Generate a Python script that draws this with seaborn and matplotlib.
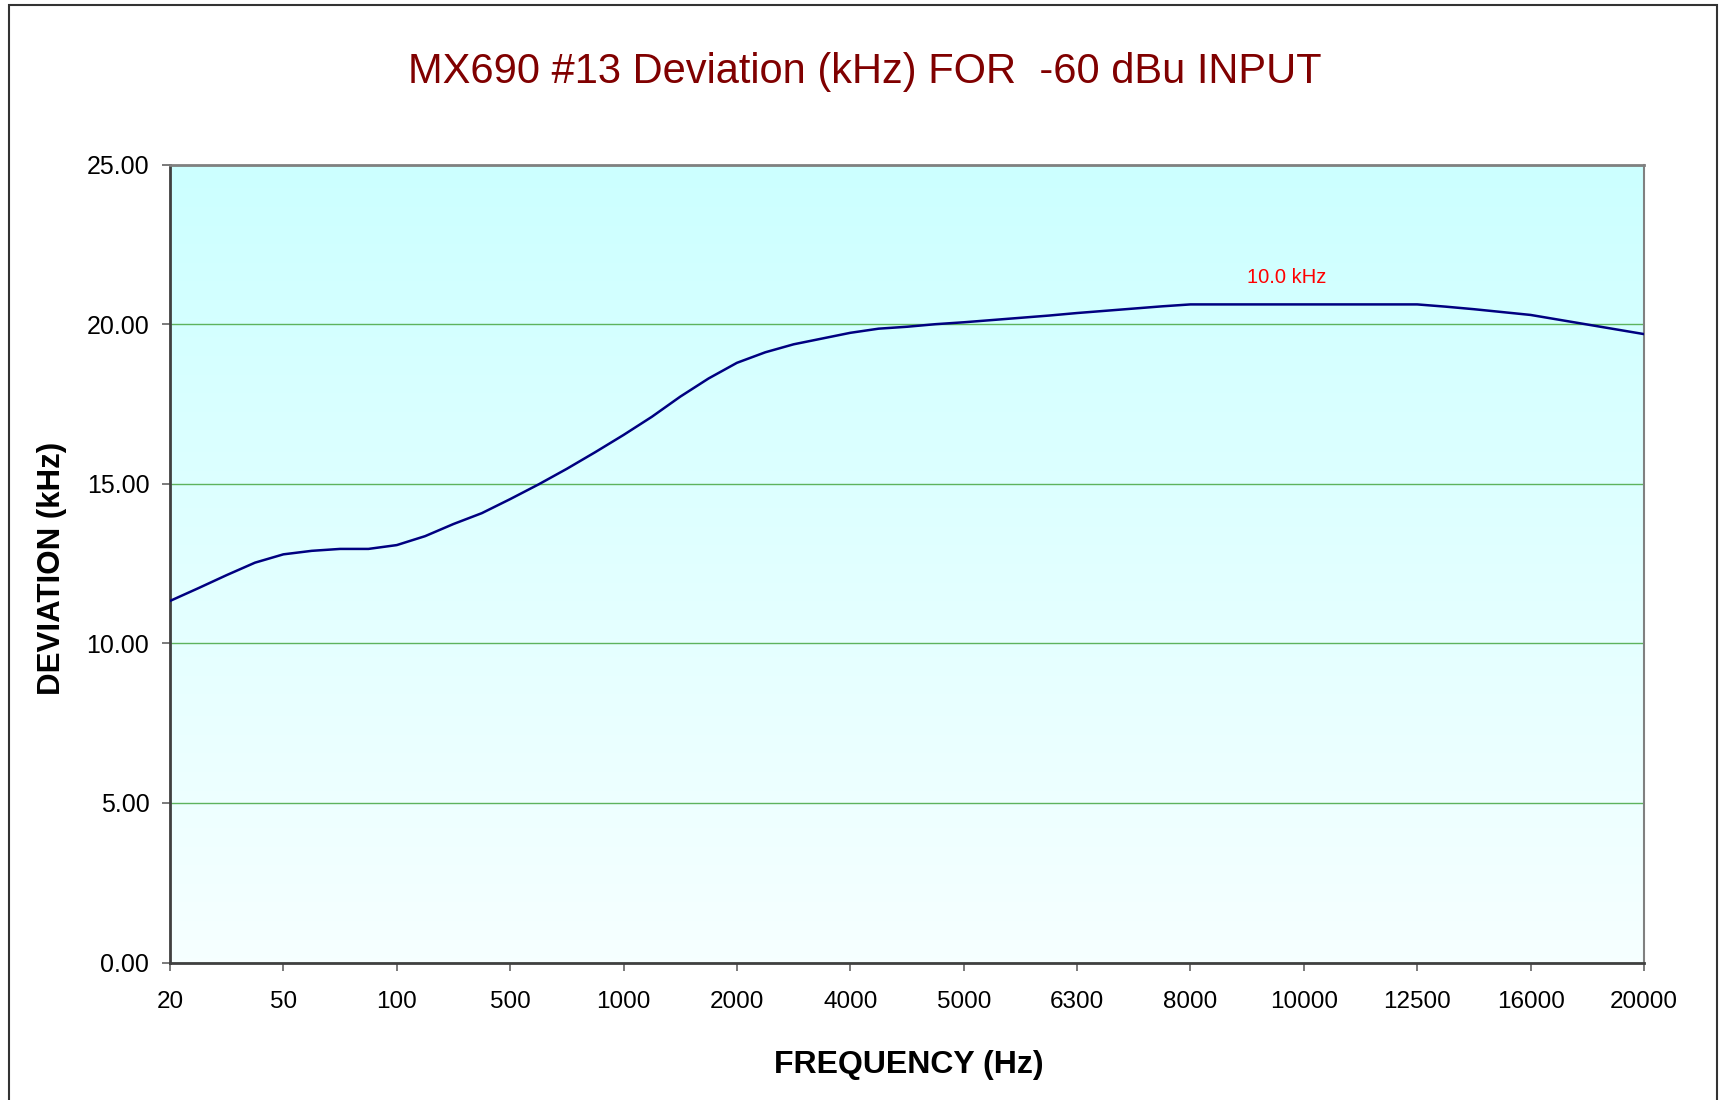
import numpy as np
import pandas as pd
import matplotlib
matplotlib.use("Agg")
import matplotlib.pyplot as plt
import seaborn as sns
from matplotlib.colors import LinearSegmentedColormap
from matplotlib.patches import Rectangle

# Category labels shown on the x axis (every 4th measured point is labelled)
freq_labels = ['20', '50', '100', '500', '1000', '2000', '4000', '5000',
               '6300', '8000', '10000', '12500', '16000', '20000']

# Deviation readings (kHz), one per measured point
deviation_khz = [
    11.33, 11.73, 12.14, 12.53, 12.79, 12.90, 12.96, 12.96,
    13.08, 13.36, 13.74, 14.08, 14.52, 14.98, 15.47, 15.99,
    16.53, 17.10, 17.73, 18.30, 18.79, 19.12, 19.37, 19.55,
    19.73, 19.86, 19.92, 20.00, 20.06, 20.13, 20.20, 20.27,
    20.35, 20.42, 20.49, 20.56, 20.62, 20.62, 20.62, 20.62,
    20.62, 20.62, 20.62, 20.62, 20.62, 20.55, 20.47, 20.38,
    20.29, 20.14, 19.99, 19.84, 19.69,
]

y_ticks = [0, 5, 10, 15, 20, 25]
peak_note = '10.0 kHz'
peak_note_pos = (39.4, 21.28)

df = pd.DataFrame({'point': np.arange(len(deviation_khz)), 'deviation': deviation_khz})

sns.set_style('white')
plt.rcParams['font.family'] = ['Liberation Sans', 'DejaVu Sans']
plt.rcParams['text.color'] = 'black'
plt.rcParams['axes.labelcolor'] = 'black'
plt.rcParams['xtick.labelcolor'] = 'black'
plt.rcParams['ytick.labelcolor'] = 'black'

W, H = 1721, 1100
fig = plt.figure(figsize=(W / 100, H / 100), dpi=100)
left, right, top, bottom = 170, 1644, 164.6, 962.6
ax = fig.add_axes([left / W, 1 - bottom / H, (right - left) / W, (bottom - top) / H])

# Excel-style gradient fill of the plot area
bg = LinearSegmentedColormap.from_list('bg', ['#CCFFFF', '#F6FFFF'])
grad = np.linspace(0, 1, 256).reshape(-1, 1)
ax.imshow(grad, aspect='auto', cmap=bg, extent=(0, 1, 0, 1),
          transform=ax.transAxes, zorder=0, interpolation='bicubic')

sns.lineplot(data=df, x='point', y='deviation', color='#000080',
             linewidth=1.8, ax=ax, zorder=3)

ax.set_xlim(0, len(deviation_khz) - 1)
ax.set_ylim(0, 25)
ax.set_xticks(np.arange(0, len(deviation_khz), 4))
ax.set_xticklabels(freq_labels)
ax.set_yticks(y_ticks)
ax.yaxis.set_major_formatter(plt.FuncFormatter(lambda v, p: f'{v:.2f}'))

ax.yaxis.grid(True, color='#5DB35D', linewidth=1.0)
ax.xaxis.grid(False)

ax.tick_params(axis='x', direction='out', length=5.5, width=1.3, color='#707070',
               labelsize=17.5, labelcolor='black', pad=15, bottom=True)
ax.tick_params(axis='y', direction='out', length=5.5, width=1.3, color='#707070',
               labelsize=18, labelcolor='black', pad=9.4, left=True)

ax.spines['top'].set_color('#808080')
ax.spines['top'].set_linewidth(2)
ax.spines['right'].set_color('#808080')
ax.spines['right'].set_linewidth(1.5)
ax.spines['left'].set_color('#404040')
ax.spines['left'].set_linewidth(2)
ax.spines['bottom'].set_color('#404040')
ax.spines['bottom'].set_linewidth(2)

ax.set_xlabel('FREQUENCY (Hz)', fontsize=23, fontweight='bold', va='center', color='black')
ax.xaxis.set_label_coords(0.501, (bottom - 1064.7) / (bottom - top))
ax.set_ylabel('DEVIATION (kHz)', fontsize=22.5, fontweight='bold', va='center', ha='center',
              color='black')
ax.yaxis.set_label_coords((52 - left) / (right - left), (bottom - 568) / (bottom - top))

ax.text(peak_note_pos[0], peak_note_pos[1], peak_note, color='#FF0000',
        fontsize=14.5, ha='center', va='baseline', zorder=4)

fig.text(864.5 / W, 1 - 83 / H, 'MX690 #13 Deviation (kHz) FOR  -60 dBu INPUT',
         ha='center', va='baseline', fontsize=30, color='#800000')

# chart frame (cut off at the bottom, as in the source)
fig.add_artist(Rectangle((9 / W, -0.05), (1717 - 9) / W, 1 - 5 / H + 0.05,
                         transform=fig.transFigure, fill=False,
                         edgecolor='#333333', linewidth=1.5))

fig.savefig('out.png', dpi=100)
